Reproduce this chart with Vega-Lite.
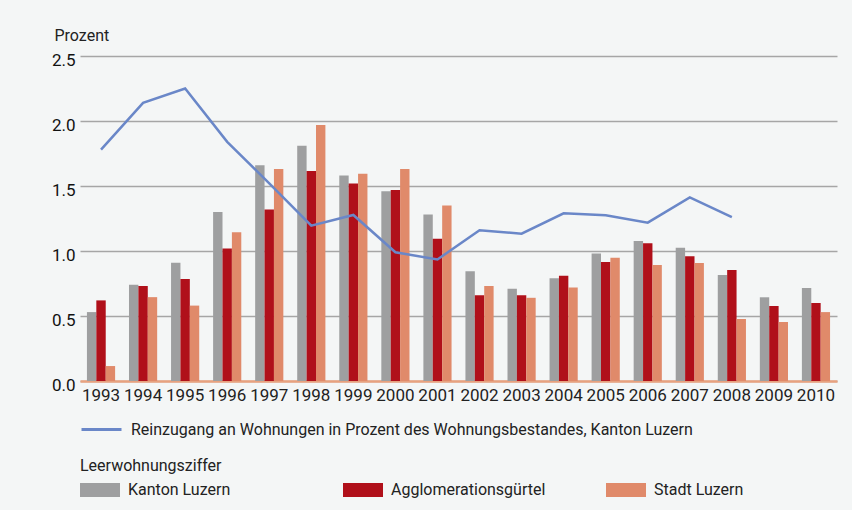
{
  "$schema": "https://vega.github.io/schema/vega-lite/v6.json",
  "autosize": {"type": "none"},
  "width": 757,
  "height": 325,
  "padding": {"left": 80, "top": 56, "right": 15, "bottom": 129},
  "background": "#f4f6f6",
  "config": {
    "view": {"stroke": null, "fill": "#f4f6f6"},
    "font": "Roboto",
    "text": {"color": "#222222"}
  },
  "datasets": {
    "bars": [
      {"year": "1993", "series": "Kanton Luzern", "value": 0.53},
      {"year": "1993", "series": "Agglomerationsgürtel", "value": 0.62},
      {"year": "1993", "series": "Stadt Luzern", "value": 0.115},
      {"year": "1994", "series": "Kanton Luzern", "value": 0.74},
      {"year": "1994", "series": "Agglomerationsgürtel", "value": 0.73},
      {"year": "1994", "series": "Stadt Luzern", "value": 0.645},
      {"year": "1995", "series": "Kanton Luzern", "value": 0.91},
      {"year": "1995", "series": "Agglomerationsgürtel", "value": 0.785},
      {"year": "1995", "series": "Stadt Luzern", "value": 0.58},
      {"year": "1996", "series": "Kanton Luzern", "value": 1.30},
      {"year": "1996", "series": "Agglomerationsgürtel", "value": 1.02},
      {"year": "1996", "series": "Stadt Luzern", "value": 1.145},
      {"year": "1997", "series": "Kanton Luzern", "value": 1.66},
      {"year": "1997", "series": "Agglomerationsgürtel", "value": 1.32},
      {"year": "1997", "series": "Stadt Luzern", "value": 1.63},
      {"year": "1998", "series": "Kanton Luzern", "value": 1.81},
      {"year": "1998", "series": "Agglomerationsgürtel", "value": 1.615},
      {"year": "1998", "series": "Stadt Luzern", "value": 1.97},
      {"year": "1999", "series": "Kanton Luzern", "value": 1.58},
      {"year": "1999", "series": "Agglomerationsgürtel", "value": 1.52},
      {"year": "1999", "series": "Stadt Luzern", "value": 1.595},
      {"year": "2000", "series": "Kanton Luzern", "value": 1.46},
      {"year": "2000", "series": "Agglomerationsgürtel", "value": 1.47},
      {"year": "2000", "series": "Stadt Luzern", "value": 1.63},
      {"year": "2001", "series": "Kanton Luzern", "value": 1.28},
      {"year": "2001", "series": "Agglomerationsgürtel", "value": 1.095},
      {"year": "2001", "series": "Stadt Luzern", "value": 1.35},
      {"year": "2002", "series": "Kanton Luzern", "value": 0.845},
      {"year": "2002", "series": "Agglomerationsgürtel", "value": 0.66},
      {"year": "2002", "series": "Stadt Luzern", "value": 0.73},
      {"year": "2003", "series": "Kanton Luzern", "value": 0.71},
      {"year": "2003", "series": "Agglomerationsgürtel", "value": 0.66},
      {"year": "2003", "series": "Stadt Luzern", "value": 0.64},
      {"year": "2004", "series": "Kanton Luzern", "value": 0.79},
      {"year": "2004", "series": "Agglomerationsgürtel", "value": 0.81},
      {"year": "2004", "series": "Stadt Luzern", "value": 0.72},
      {"year": "2005", "series": "Kanton Luzern", "value": 0.98},
      {"year": "2005", "series": "Agglomerationsgürtel", "value": 0.915},
      {"year": "2005", "series": "Stadt Luzern", "value": 0.948},
      {"year": "2006", "series": "Kanton Luzern", "value": 1.077},
      {"year": "2006", "series": "Agglomerationsgürtel", "value": 1.06},
      {"year": "2006", "series": "Stadt Luzern", "value": 0.893},
      {"year": "2007", "series": "Kanton Luzern", "value": 1.025},
      {"year": "2007", "series": "Agglomerationsgürtel", "value": 0.96},
      {"year": "2007", "series": "Stadt Luzern", "value": 0.908},
      {"year": "2008", "series": "Kanton Luzern", "value": 0.815},
      {"year": "2008", "series": "Agglomerationsgürtel", "value": 0.854},
      {"year": "2008", "series": "Stadt Luzern", "value": 0.477},
      {"year": "2009", "series": "Kanton Luzern", "value": 0.644},
      {"year": "2009", "series": "Agglomerationsgürtel", "value": 0.577},
      {"year": "2009", "series": "Stadt Luzern", "value": 0.454},
      {"year": "2010", "series": "Kanton Luzern", "value": 0.715},
      {"year": "2010", "series": "Agglomerationsgürtel", "value": 0.60},
      {"year": "2010", "series": "Stadt Luzern", "value": 0.53}
    ],
    "line": [
      {"year": "1993", "value": 1.78},
      {"year": "1994", "value": 2.14},
      {"year": "1995", "value": 2.25},
      {"year": "1996", "value": 1.84},
      {"year": "1997", "value": 1.52},
      {"year": "1998", "value": 1.195},
      {"year": "1999", "value": 1.277},
      {"year": "2000", "value": 0.99},
      {"year": "2001", "value": 0.935},
      {"year": "2002", "value": 1.16},
      {"year": "2003", "value": 1.133},
      {"year": "2004", "value": 1.29},
      {"year": "2005", "value": 1.275},
      {"year": "2006", "value": 1.218},
      {"year": "2007", "value": 1.413},
      {"year": "2008", "value": 1.26}
    ]
  },
  "layer": [
    {
      "data": {"name": "bars"},
      "mark": {"type": "bar", "cornerRadius": 0},
      "encoding": {
        "x": {
          "field": "year",
          "type": "nominal",
          "scale": {"paddingInner": 0.33, "paddingOuter": 0.165},
          "axis": {
            "title": null,
            "labelAngle": 0,
            "labelFontSize": 17,
            "labelColor": "#222222",
            "labelPadding": 6,
            "ticks": false,
            "domain": true,
            "domainColor": "#e8a27f",
            "domainWidth": 2.5,
            "grid": false
          }
        },
        "xOffset": {
          "field": "series",
          "type": "nominal",
          "scale": {"domain": ["Kanton Luzern", "Agglomerationsgürtel", "Stadt Luzern"], "paddingInner": 0, "paddingOuter": 0}
        },
        "y": {
          "field": "value",
          "type": "quantitative",
          "scale": {"domain": [0, 2.5], "nice": false},
          "axis": {
            "title": "Prozent",
            "titleAngle": 0,
            "titleAlign": "left",
            "titleBaseline": "alphabetic",
            "titleX": -26,
            "titleY": -16,
            "titleFontSize": 16,
            "titleFontWeight": "normal",
            "titleColor": "#222222",
            "values": [0, 0.5, 1, 1.5, 2, 2.5],
            "format": ".1f",
            "labelFontSize": 17,
            "labelColor": "#111111",
            "labelPadding": 5,
            "labelOffset": 4,
            "ticks": false,
            "domain": false,
            "grid": true,
            "gridColor": "#a6a6a6",
            "gridWidth": 1.5
          }
        },
        "color": {
          "field": "series",
          "type": "nominal",
          "scale": {
            "domain": ["Kanton Luzern", "Agglomerationsgürtel", "Stadt Luzern"],
            "range": ["#9e9fa0", "#b0101a", "#e08a6a"]
          },
          "legend": {
            "title": "Leerwohnungsziffer",
            "orient": "none",
            "legendX": 0,
            "legendY": 402,
            "direction": "horizontal",
            "columns": 3,
            "gridAlign": "all",
            "columnPadding": 60,
            "titleFontSize": 16,
            "titleFontWeight": "normal",
            "titleColor": "#222222",
            "titlePadding": 6,
            "labelFontSize": 16,
            "labelColor": "#222222",
            "labelOffset": 28,
            "labelLimit": 400,
            "symbolType": "M-1,-0.7H3V0.7H-1Z",
            "symbolSize": 400,
            "symbolStrokeWidth": 0,
            "symbolOpacity": 1
          }
        }
      }
    },
    {
      "data": {"name": "line"},
      "mark": {"type": "line", "strokeWidth": 2.5},
      "encoding": {
        "x": {"field": "year", "type": "nominal"},
        "y": {"field": "value", "type": "quantitative"},
        "stroke": {
          "datum": "Reinzugang an Wohnungen in Prozent des Wohnungsbestandes, Kanton Luzern",
          "scale": {"range": ["#6a87c8"]},
          "legend": {
            "title": null,
            "orient": "none",
            "legendX": 0,
            "legendY": 362,
            "labelFontSize": 16,
            "labelColor": "#222222",
            "labelOffset": 28,
            "labelLimit": 800,
            "symbolType": "M-1,0H3",
            "symbolSize": 400,
            "symbolStrokeWidth": 3
          }
        }
      }
    }
  ]
}
